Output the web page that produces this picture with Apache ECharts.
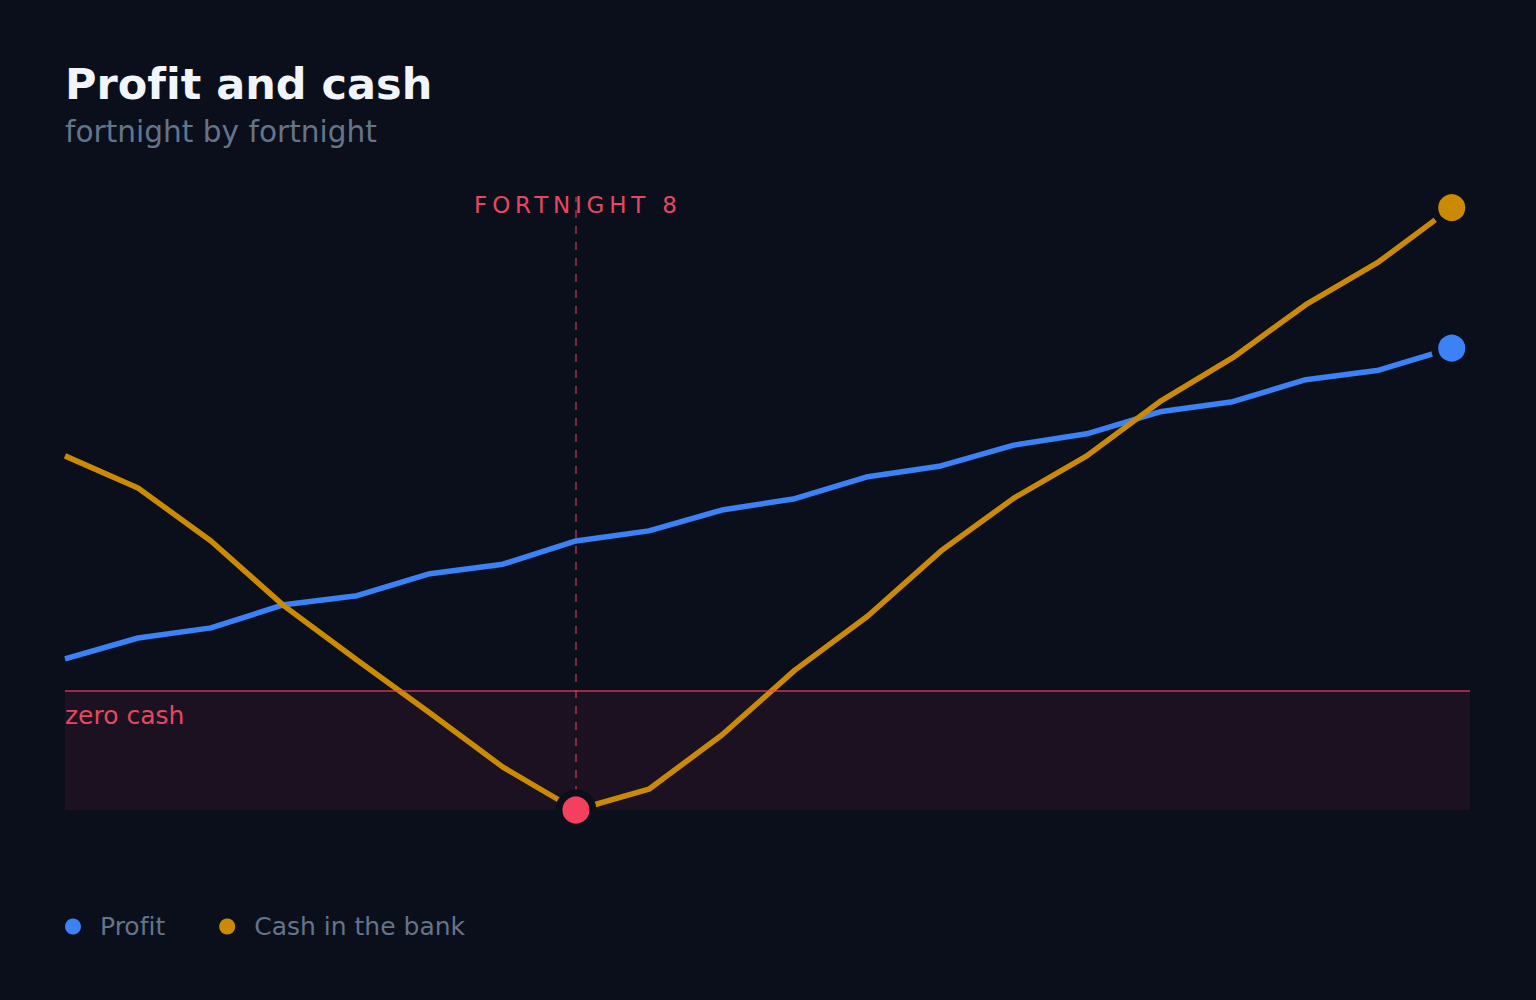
<!DOCTYPE html>
<html>
<head>
<meta charset="utf-8">
<script src="https://cdn.jsdelivr.net/npm/echarts@6/dist/echarts.min.js"></script>
<style>
html,body{margin:0;padding:0;background:#0b0f1c;}
#chart{width:1536px;height:1000px;}
#chart text{font-variant-ligatures:none;font-feature-settings:"liga" 0;}
</style>
</head>
<body>
<div id="chart"></div>
<script>
var fortnights = [1,2,3,4,5,6,7,8,9,10,11,12,13,14,15,16,17,18,19,20];
var profit = [5.4,8.9,10.6,14.5,16.0,19.7,21.3,25.2,26.9,30.4,32.3,36.0,37.8,41.3,43.2,46.9,48.6,52.3,53.9,57.6];
var cash = [39.5,34.1,25.2,14.3,5.2,-3.7,-12.8,-20.0,-16.5,-7.4,3.5,12.6,23.5,32.4,39.5,48.6,56.0,64.9,72.1,81.2];
var markerFortnight = 8;
var markerLabel = 'FORTNIGHT 8';
var zeroLabel = 'zero cash';

var BG = '#0b0f1c';
var BLUE = '#3b82f6';
var GOLD = '#ca8a04';
var ROSE = '#f43f5e';
var FONT = 'DejaVu Sans';

function pairs(vals){ return fortnights.map(function(f,i){ return [f, vals[i]]; }); }
var last = fortnights.length - 1;
var minIdx = cash.indexOf(Math.min.apply(null, cash));

var chart = echarts.init(document.getElementById('chart'), null, { renderer: 'svg' });
chart.setOption({
  backgroundColor: BG,
  animation: false,
  textStyle: { fontFamily: FONT },
  title: {
    text: 'Profit and cash',
    subtext: 'fortnight by fortnight',
    left: 65, top: 62, padding: 0, itemGap: 12,
    textStyle: { color: '#f1f5f9', fontSize: 43, fontWeight: 'bold', fontFamily: FONT },
    subtextStyle: { color: '#64748b', fontSize: 29.6, fontFamily: FONT }
  },
  legend: {
    left: 65, top: 914, padding: 0,
    icon: 'circle', itemWidth: 16, itemHeight: 16, itemGap: 54,
    textStyle: { color: '#64748b', fontSize: 25, padding: [0,0,0,14], fontFamily: FONT },
    data: ['Profit', 'Cash in the bank']
  },
  grid: { left: 65, right: 66, top: 191, bottom: 190 },
  xAxis: {
    type: 'value', min: 1, max: 20.25,
    axisLine: { show: false }, axisTick: { show: false }, axisLabel: { show: false }, splitLine: { show: false }
  },
  yAxis: {
    type: 'value', min: -20, max: 84,
    axisLine: { show: false }, axisTick: { show: false }, axisLabel: { show: false }, splitLine: { show: false }
  },
  series: [
    {
      name: 'Profit', type: 'line', data: pairs(profit), showSymbol: false, clip: false,
      color: BLUE, lineStyle: { width: 5.5, color: BLUE }, z: 3,
      markPoint: {
        symbol: 'circle', symbolSize: 34, label: { show: false },
        itemStyle: { color: BLUE, borderColor: BG, borderWidth: 7 },
        data: [{ coord: [fortnights[last], profit[last]] }]
      }
    },
    {
      name: 'Cash in the bank', type: 'line', data: pairs(cash), showSymbol: false, clip: false,
      color: GOLD, lineStyle: { width: 5.5, color: GOLD }, z: 4,
      markArea: {
        silent: true,
        itemStyle: { color: 'rgba(244,63,94,0.07)' },
        label: { show: true, position: 'insideTopLeft', distance: 0, offset: [0, 12], color: '#e5485f', fontSize: 25, fontFamily: FONT },
        data: [[{ coord: [1, 0], name: zeroLabel }, { coord: [20.25, -20] }]]
      },
      markLine: {
        silent: true, symbol: 'none',
        data: [
          [{ coord: [1, 0], lineStyle: { color: 'rgba(244,63,94,0.6)', width: 2, type: 'solid' } },
           { coord: [20.25, 0] }],
          [{ coord: [markerFortnight, cash[minIdx]], lineStyle: { color: 'rgba(244,63,94,0.5)', width: 2, type: [8, 8] } },
           { coord: [markerFortnight, 83] }]
        ],
        label: { show: false }
      },
      markPoint: {
        symbol: 'circle', symbolSize: 34,
        data: [
          { coord: [fortnights[last], cash[last]], itemStyle: { color: GOLD, borderColor: BG, borderWidth: 7 }, label: { show: false } },
          { coord: [fortnights[minIdx], cash[minIdx]], itemStyle: { color: ROSE, borderColor: BG, borderWidth: 7 }, label: { show: false } },
          { coord: [markerFortnight, 81.7], symbolSize: 0, itemStyle: { color: 'transparent' },
            label: { show: true, position: 'inside', offset: [2, 0], formatter: markerLabel, color: '#e5485f', fontSize: 23, fontFamily: FONT } }
        ]
      }
    }
  ]
});

function spaceMarker(){
  var texts = document.querySelectorAll('#chart svg text');
  for (var i = 0; i < texts.length; i++) {
    if (texts[i].textContent === markerLabel) {
      texts[i].style.letterSpacing = '4.8px';
    }
  }
}
spaceMarker();
chart.on('finished', spaceMarker);
</script>
</body>
</html>
